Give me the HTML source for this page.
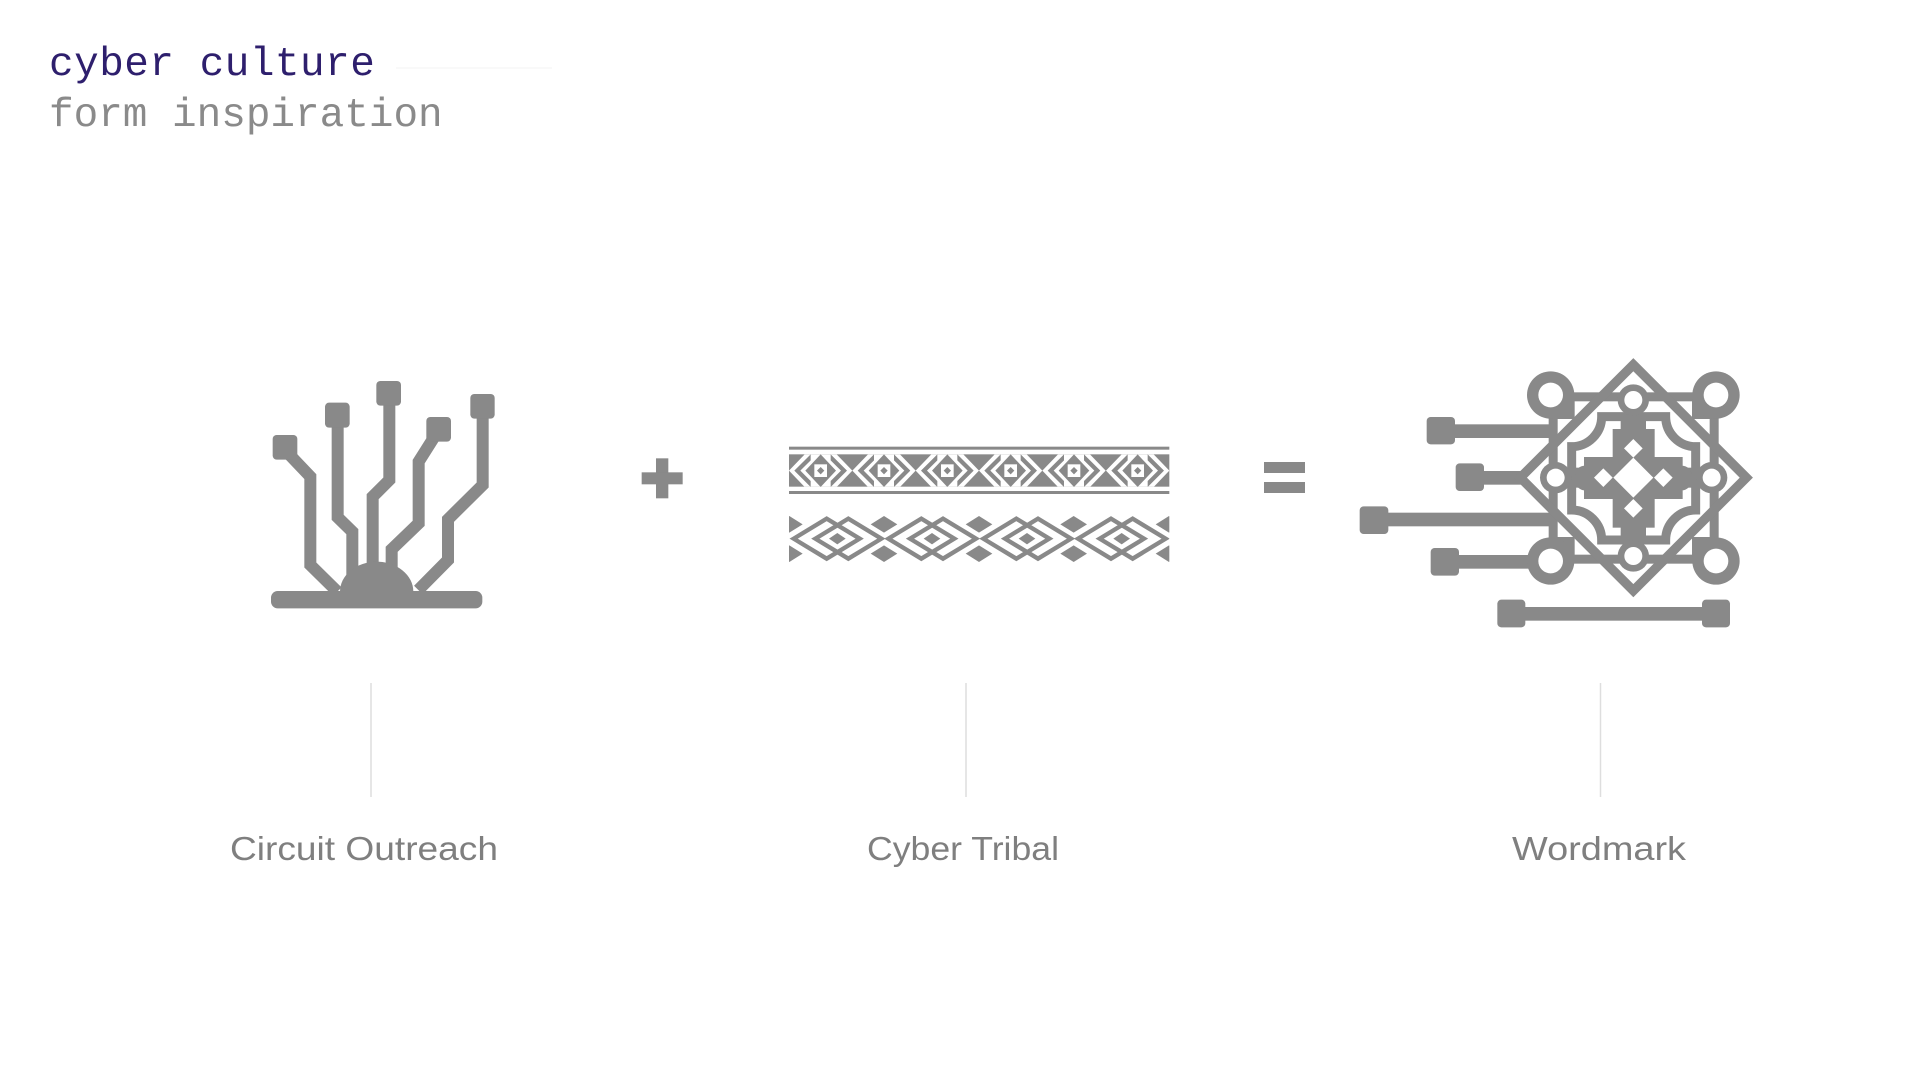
<!DOCTYPE html>
<html lang="en">
<head>
<meta charset="utf-8">
<title>cyber culture - form inspiration</title>
<style>
html,body{margin:0;padding:0;background:#fff;width:1920px;height:1080px;overflow:hidden}
svg{display:block}
</style>
</head>
<body>
<svg width="1920" height="1080" viewBox="0 0 1920 1080" xmlns="http://www.w3.org/2000/svg">
<defs>
<g id="u">
<polygon points="-95,0 -48,-49 48,-49 95,0 48,49 -48,49" fill="#fff"/>
<polygon points="-79,0 -30,-49 -30,-31 -61,0 -30,31 -30,49" fill="#898989"/>
<polygon points="79,0 30,-49 30,-31 61,0 30,31 30,49" fill="#898989"/>
<polygon points="-46,0 0,-49 46,0 0,49" fill="#898989"/>
<rect x="-19" y="-19" width="38" height="38" fill="#fff"/>
<polygon points="-11,0 0,-11 11,0 0,11" fill="#898989"/>
</g>
<g id="d">
<polygon points="-99,0 0,-60 99,0 0,60" transform="translate(-32,0)" fill="none" stroke="#898989" stroke-width="13"/>
<polygon points="-99,0 0,-60 99,0 0,60" transform="translate(33,0)" fill="none" stroke="#898989" stroke-width="13"/>
<polygon points="-25,0 0,-17 25,0 0,17" fill="#898989"/>
</g>
<g id="s">
<polygon points="-40,-43 0,-68 40,-43 0,-18" fill="#898989"/>
<polygon points="-40,45 0,20 40,45 0,70" fill="#898989"/>
</g>
<clipPath id="c"><rect x="27" y="240" width="1141" height="170"/></clipPath>
</defs>
<rect width="1920" height="1080" fill="#fff"/>

<text x="49" y="75" font-family="'Liberation Mono',monospace" font-size="41" letter-spacing="0.5" fill="#2e1f6d">cyber culture</text>
<text x="49" y="126" font-family="'Liberation Mono',monospace" font-size="41" fill="#8a8a8a">form inspiration</text>
<line x1="396" y1="68" x2="552" y2="68" stroke="#f3f3f3" stroke-width="1"/>

<!-- Circuit -->
<g transform="translate(250,360) scale(.33333)" fill="#898989">
<g fill="none" stroke="#898989" stroke-width="36">
<path d="M105,270 L181,350 V615 L262,695"/>
<path d="M263,165 V472 L307,515 V660"/>
<path d="M418,100 V360 L368,410 V620"/>
<path d="M566,210 L506,305 V490 L425,568 V630"/>
<path d="M698,140 V375 L594,478 V600 L505,690"/>
</g>
<rect x="68" y="225" width="74" height="74" rx="12"/>
<rect x="225" y="128" width="74" height="75" rx="12"/>
<rect x="379" y="63" width="74" height="74" rx="12"/>
<rect x="529" y="171" width="74" height="74" rx="12"/>
<rect x="661" y="102" width="73" height="74" rx="12"/>
<path d="M270,695 A110,90 0 0 1 490,695 Z"/>
<rect x="63" y="693" width="634" height="52" rx="20"/>
<rect x="1218" y="295" width="37" height="120"/>
<rect x="1175" y="337" width="123" height="36"/>
</g>

<!-- Tribal -->
<g transform="translate(780,430) scale(.33333)">
<rect x="27" y="50" width="1141" height="9" fill="#898989"/>
<rect x="27" y="183" width="1141" height="9" fill="#898989"/>
<rect x="27" y="73" width="1141" height="97" fill="#898989"/>
<svg x="27" y="73" width="1141" height="97" viewBox="27 73 1141 97" overflow="hidden">
<use href="#u" x="122" y="122"/>
<use href="#u" x="312" y="122"/>
<use href="#u" x="502" y="122"/>
<use href="#u" x="692" y="122"/>
<use href="#u" x="882" y="122"/>
<use href="#u" x="1073" y="122"/>
</svg>
<g clip-path="url(#c)">
<use href="#d" x="172" y="326"/>
<use href="#d" x="456" y="326"/>
<use href="#d" x="741" y="326"/>
<use href="#d" x="1025" y="326"/>
<use href="#s" x="28" y="326"/>
<use href="#s" x="312" y="326"/>
<use href="#s" x="597" y="326"/>
<use href="#s" x="881" y="326"/>
<use href="#s" x="1167" y="326"/>
</g>
</g>

<!-- Equals -->
<rect x="1271" y="463" width="41" height="11" fill="#898989" transform="translate(-7,-1)"/>
<rect x="1271" y="483" width="41" height="11" fill="#898989" transform="translate(-7,-1)"/>

<!-- Wordmark -->
<g transform="translate(1500,355) scale(.33333)" fill="#898989">
<rect x="-220" y="186" width="85" height="82" rx="12"/><rect x="-140" y="208" width="295" height="41"/>
<rect x="-133" y="325" width="85" height="83" rx="12"/><rect x="-55" y="348" width="130" height="41"/>
<rect x="-421" y="454" width="86" height="83" rx="12"/><rect x="-340" y="473" width="495" height="41"/>
<rect x="-208" y="579" width="85" height="83" rx="12"/><rect x="-130" y="600" width="225" height="41"/>
<rect x="-8" y="734" width="84" height="83" rx="12"/><rect x="606" y="734" width="84" height="83" rx="12"/><rect x="70" y="756" width="540" height="41"/>
<!-- square frame -->
<rect x="146" y="112" width="27" height="514"/>
<rect x="629" y="112" width="27" height="514"/>
<rect x="146" y="112" width="510" height="27"/>
<rect x="146" y="599" width="510" height="27"/>
<rect x="152" y="120" width="72" height="72"/>
<rect x="576" y="120" width="72" height="72"/>
<rect x="152" y="546" width="72" height="72"/>
<rect x="576" y="546" width="72" height="72"/>
<circle cx="152" cy="120" r="71"/><circle cx="648" cy="120" r="71"/><circle cx="152" cy="618" r="71"/><circle cx="648" cy="618" r="71"/>
<!-- outer diamond -->
<polygon points="400,29 739,368 400,707 61,368" fill="none" stroke="#898989" stroke-width="28"/>
<!-- ornate frame -->
<path d="M305,185 H497 A90,90 0 0 0 587,275 V465 A90,90 0 0 0 497,555 H305 A90,90 0 0 0 215,465 V275 A90,90 0 0 0 305,185 Z" fill="none" stroke="#898989" stroke-width="27"/>
<!-- cross -->
<rect x="338" y="222" width="126" height="296"/>
<rect x="252" y="306" width="296" height="126"/>
<rect x="362" y="170" width="76" height="398" rx="25"/>
<rect x="205" y="338" width="395" height="60"/>
<rect x="225" y="332" width="350" height="74" rx="30"/>
<!-- mid circles -->
<circle cx="400" cy="135" r="47"/><circle cx="400" cy="603" r="47"/><circle cx="167" cy="368" r="47"/><circle cx="635" cy="368" r="47"/>
<g fill="#fff">
<circle cx="152" cy="120" r="37"/><circle cx="648" cy="120" r="37"/><circle cx="152" cy="618" r="37"/><circle cx="648" cy="618" r="37"/>
<circle cx="400" cy="135" r="27"/><circle cx="400" cy="603" r="27"/><circle cx="167" cy="368" r="27"/><circle cx="635" cy="368" r="27"/>
<polygon points="400,308 460,368 400,428 340,368"/>
<polygon points="400,252 428,280 400,308 372,280"/>
<polygon points="400,432 428,460 400,488 372,460"/>
<polygon points="310,340 338,368 310,396 282,368"/>
<polygon points="490,340 518,368 490,396 462,368"/>
</g>
</g>

<!-- Divider lines -->
<line x1="371" y1="683" x2="371" y2="797" stroke="#dedede" stroke-width="1.5"/>
<line x1="966" y1="683" x2="966" y2="797" stroke="#dedede" stroke-width="1.5"/>
<line x1="1600.5" y1="683" x2="1600.5" y2="797" stroke="#dedede" stroke-width="1.5"/>

<!-- Labels -->
<g font-family="'Liberation Sans',sans-serif" font-size="33" fill="#7f7f7f">
<text x="230" y="860" textLength="268" lengthAdjust="spacingAndGlyphs">Circuit Outreach</text>
<text x="867" y="860" textLength="192" lengthAdjust="spacingAndGlyphs">Cyber Tribal</text>
<text x="1512" y="860" textLength="174" lengthAdjust="spacingAndGlyphs">Wordmark</text>
</g>
</svg>
</body>
</html>
